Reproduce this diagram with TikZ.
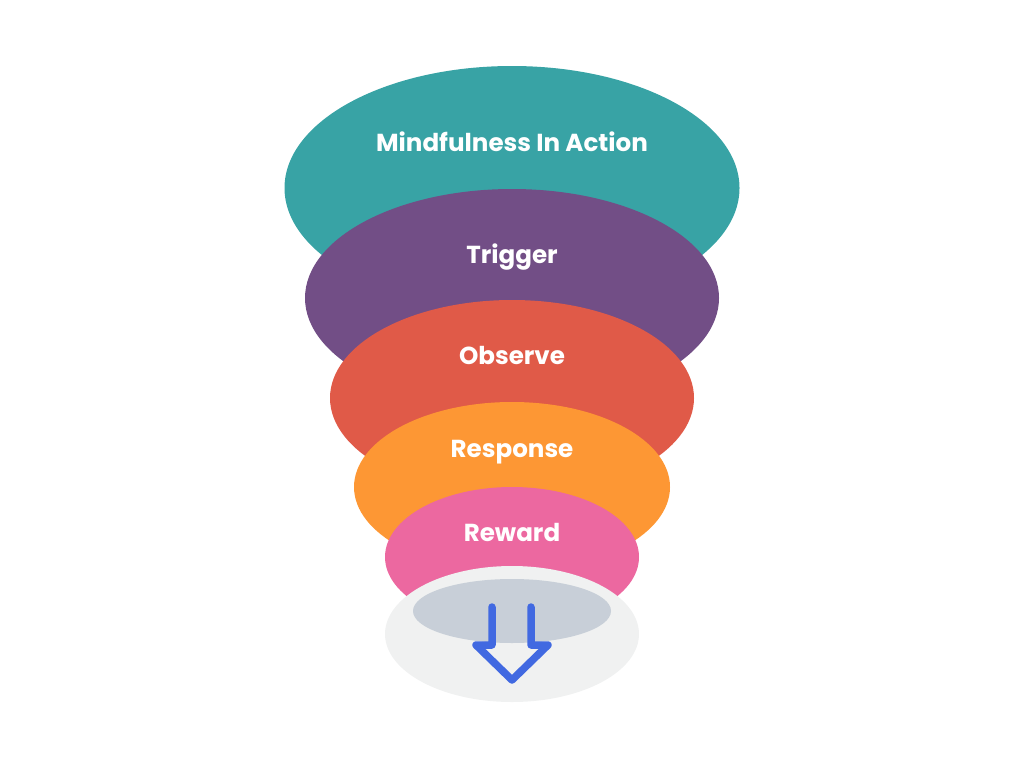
\documentclass[tikz,border=0pt]{standalone}
\usepackage{fontspec}
\setmainfont{Poppins}
\usetikzlibrary{shapes.geometric}
\definecolor{fnTeal}  {HTML}{38A3A5}
\definecolor{fnPlum}  {HTML}{724E86}
\definecolor{fnCoral} {HTML}{E05A48}
\definecolor{fnAmber} {HTML}{FD9734}
\definecolor{fnPink}  {HTML}{EC68A0}
\definecolor{fnMist}  {HTML}{F0F1F1}
\definecolor{fnStone} {HTML}{C8CFD8}
\definecolor{fnBlue}  {HTML}{4169E1}
\tikzset{
  layer/.style={ellipse,inner sep=0pt,draw=none},
  tag/.style={text=white,anchor=base,inner sep=0pt,font=\fontsize{24.6}{28}\selectfont\bfseries}
}

\begin{document}
\begin{tikzpicture}[x=1pt,y=-1pt]
    \useasboundingbox (0,0) rectangle (1024,768);

    \node[layer,fill=fnTeal,minimum width=455pt,minimum height=244pt] (mind) at (512,188) {};
    \node[tag] (mindT) at (512,151) {Mindfulness In Action};

    \node[layer,fill=fnPlum,minimum width=414pt,minimum height=218pt] (trig) at (512,298) {};
    \node[tag] (trigT) at (512,263) {Trigger};

    \node[layer,fill=fnCoral,minimum width=364pt,minimum height=196pt] (obs) at (512,398) {};
    \node[tag] (obsT) at (512,364) {Observe};

    \node[layer,fill=fnAmber,minimum width=316pt,minimum height=170pt] (resp) at (512,487) {};
    \node[tag] (respT) at (512,457) {Response};

    \node[layer,fill=fnPink,minimum width=254pt,minimum height=140pt] (rew) at (512,557) {};
    \node[tag] (rewT) at (512,541) {Reward};

    \node[layer,fill=fnMist,minimum width=254pt,minimum height=136pt] (cup) at (512,634) {};
    \node[layer,fill=fnStone,minimum width=198pt,minimum height=64pt] (hole) at (512,611) {};

    % outline arrow into the cup
    \draw[fnBlue,line width=7.5pt,line cap=round,line join=round]
      (492,607) -- (492,645) -- (476,645) -- (512,680) -- (548,645) -- (531,645) -- (531,607);
\end{tikzpicture}
\end{document}
